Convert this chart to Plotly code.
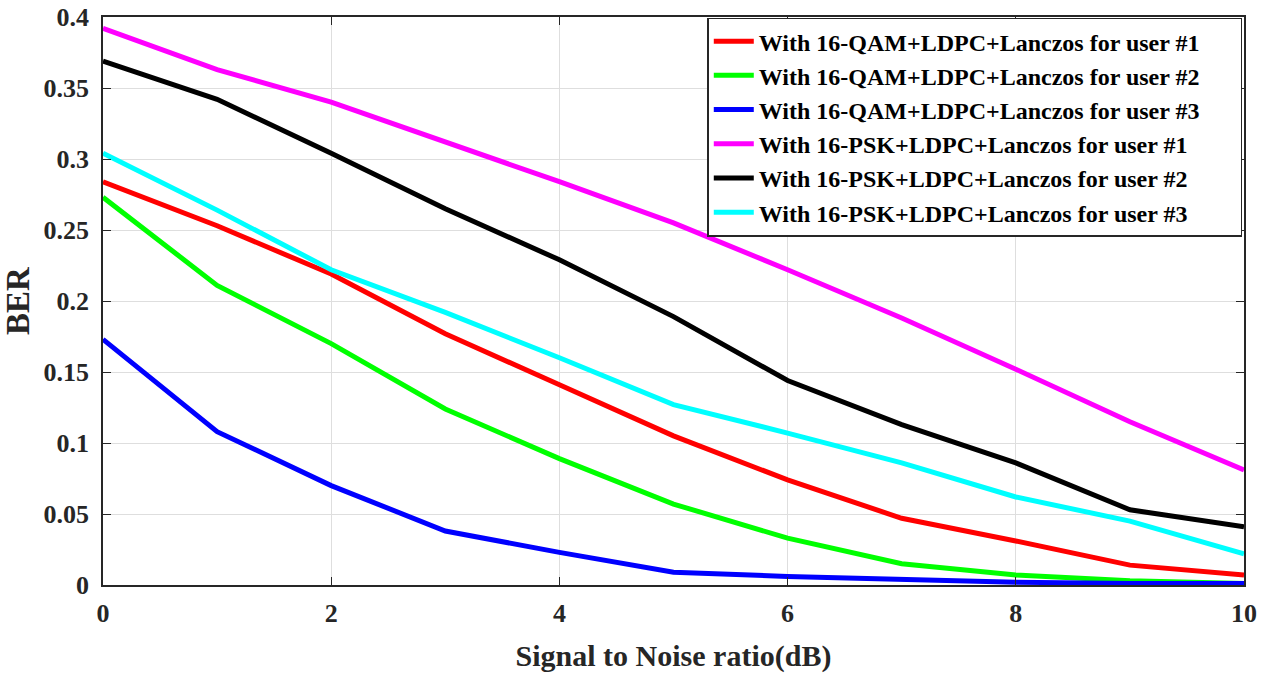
import plotly.graph_objects as go

snr = [0, 1, 2, 3, 4, 5, 6, 7, 8, 9, 10]

qam_user1 = [0.284, 0.253, 0.219, 0.177, 0.141, 0.105, 0.074, 0.047, 0.031, 0.014, 0.007]
qam_user2 = [0.273, 0.211, 0.170, 0.124, 0.089, 0.057, 0.033, 0.015, 0.007, 0.003, 0.001]
qam_user3 = [0.173, 0.108, 0.070, 0.038, 0.023, 0.009, 0.006, 0.004, 0.002, 0.001, 0.001]
psk_user1 = [0.392, 0.363, 0.340, 0.312, 0.284, 0.255, 0.222, 0.188, 0.152, 0.115, 0.081]
psk_user2 = [0.369, 0.342, 0.304, 0.265, 0.229, 0.189, 0.144, 0.113, 0.086, 0.053, 0.041]
psk_user3 = [0.304, 0.264, 0.222, 0.192, 0.160, 0.127, 0.107, 0.086, 0.062, 0.045, 0.022]

names = [
    "With 16-QAM+LDPC+Lanczos for user #1",
    "With 16-QAM+LDPC+Lanczos for user #2",
    "With 16-QAM+LDPC+Lanczos for user #3",
    "With 16-PSK+LDPC+Lanczos for user #1",
    "With 16-PSK+LDPC+Lanczos for user #2",
    "With 16-PSK+LDPC+Lanczos for user #3",
]
series = [qam_user1, qam_user2, qam_user3, psk_user1, psk_user2, psk_user3]
colors = ["#ff0000", "#00ff00", "#0000ff", "#ff00ff", "#000000", "#00ffff"]

y_ticks = [0, 0.05, 0.1, 0.15, 0.2, 0.25, 0.3, 0.35, 0.4]
y_ticktext = ["0", "0.05", "0.1", "0.15", "0.2", "0.25", "0.3", "0.35", "0.4"]
x_ticks = [0, 2, 4, 6, 8, 10]

font_family = "Liberation Serif, Times New Roman, serif"
pad = "\u00a0" * 6  # invisible right padding inside the legend box

fig = go.Figure()
for i, (name, vals, col) in enumerate(zip(names, series, colors)):
    fig.add_trace(go.Scatter(
        x=snr, y=vals, mode="lines", name=name + pad, legendgroup=f"g{i}",
        line=dict(color=col, width=5),
    ))

fig.update_layout(
    width=1266, height=673,
    margin=dict(l=103, r=22, t=17, b=88),
    plot_bgcolor="white", paper_bgcolor="white",
    font=dict(family=font_family, color="#262626", size=22),
    showlegend=True,
    legend=dict(
        x=0.9985, y=0.999, xanchor="right", yanchor="top",
        bgcolor="white", bordercolor="#262626", borderwidth=1.5,
        font=dict(family=font_family, size=24, color="#000000", weight="bold"),
        tracegroupgap=0, itemwidth=40,
    ),
    xaxis=dict(
        range=[0, 10], tickvals=x_ticks, automargin=False,
        showgrid=True, gridcolor="#dedede", gridwidth=1,
        showline=True, linecolor="#262626", linewidth=1.5, mirror="ticks",
        ticks="inside", ticklen=8, tickcolor="#262626",
        ticklabelstandoff=4, ticklabeloverflow="allow",
        tickfont=dict(family=font_family, size=26, weight="bold"),
        title=dict(text="Signal to Noise ratio(dB)", standoff=20,
                   font=dict(family=font_family, size=30, weight="bold")),
        zeroline=False,
    ),
    yaxis=dict(
        range=[0, 0.4], tickvals=y_ticks, ticktext=y_ticktext, automargin=False,
        showgrid=True, gridcolor="#dedede", gridwidth=1,
        showline=True, linecolor="#262626", linewidth=1.5, mirror="ticks",
        ticks="inside", ticklen=8, tickcolor="#262626",
        ticklabelstandoff=7, ticklabeloverflow="allow",
        tickfont=dict(family=font_family, size=26, weight="bold"),
        title=dict(text="BER", standoff=14,
                   font=dict(family=font_family, size=33, weight="bold")),
        zeroline=False,
    ),
)

fig.write_html("out.html", config={"displayModeBar": False},
               post_script="document.body.style.margin='0';")
